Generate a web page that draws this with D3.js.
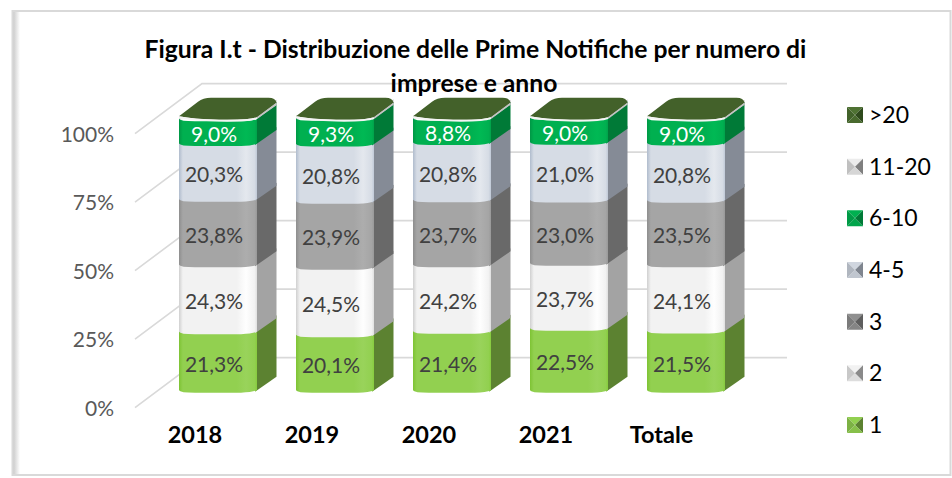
<!DOCTYPE html>
<html><head><meta charset="utf-8">
<script src="https://cdn.jsdelivr.net/npm/d3@7"></script>
<style>html,body{margin:0;padding:0;background:#fff}svg{display:block}text{font-family:Lato,"Open Sans",sans-serif}</style>
</head><body><svg id="c" width="952" height="478"></svg>
<script>
const categories = ["2018","2019","2020","2021","Totale"];
const seriesNames = ["1","2","3","4-5","6-10","11-20",">20"];
const s1    = [21.3,20.1,21.4,22.5,21.5];
const s2    = [24.3,24.5,24.2,23.7,24.1];
const s3    = [23.8,23.9,23.7,23.0,23.5];
const s45   = [20.3,20.8,20.8,21.0,20.8];
const s610  = [9.0,9.3,8.8,9.0,9.0];
const s1120 = [0.9,0.9,0.7,0.5,0.6];
const s20   = [0.4,0.2,0.4,0.3,0.5];
const seriesValues = [s1,s2,s3,s45,s610,s1120,s20];
const labelled = [true,true,true,true,true,false,false];
const pctTicks = [0,25,50,75,100];
const fronts = ["#92d050","#f2f2f2","#a5a5a5","#d6dce5","#00b050","#ffffff","#43612a"];
const sides  = ["#5c8231","#a3a3a3","#696969","#858b96","#007a37","#c4c4c4","#43612a"];
const swatchTop  = ["#92d050","#f2f2f2","#8f8f8f","#d0d6df","#00b050","#ececec","#4f7233"];
const swatchDark = ["#5c8231","#8a8a8a","#5e5e5e","#7f858f","#007a37","#7f7f7f","#2f4a1c"];
const labelColors = ["#404040","#404040","#404040","#404040","#ffffff"];

const svg = d3.select("#c");
const defs = svg.append("defs");

// frame
const sh = defs.append("linearGradient").attr("id","frameShadow");
sh.append("stop").attr("offset",0).attr("stop-color","#c9c9c9");
sh.append("stop").attr("offset",1).attr("stop-color","#ffffff");
svg.append("rect").attr("x",13).attr("y",11).attr("width",7).attr("height",464).attr("fill","url(#frameShadow)");
svg.append("rect").attr("x",12.5).attr("y",11).attr("width",938).attr("height",464)
  .attr("fill","none").attr("stroke","#d9d9d9").attr("stroke-width",2);

// scales
const yFront = d3.scaleLinear().domain([0,100]).range([392.7,117.7]);
const yWall  = d3.scaleLinear().domain([0,100]).range([357.6,83.6]);
const yAxisF = d3.scaleLinear().domain([0,100]).range([407.6,133.6]);
const x = d3.scaleBand().domain(categories).range([179,725]).paddingInner(1/3).paddingOuter(0);
const wallX0 = 202, wallX1 = 787, axisX = 135;
const depthX = 19.5, depthY = 16, cornerDrop = 2.5;

// gridlines
const grid = svg.append("g").attr("stroke","#d9d9d9").attr("stroke-width",1.6).attr("fill","none");
pctTicks.forEach(t=>{
  grid.append("path").attr("d",d3.line()([[axisX,yAxisF(t)],[wallX0,yWall(t)],[wallX1,yWall(t)]]));
});

// axes
const yAxisG = svg.append("g").attr("transform",`translate(${axisX-21},0)`)
  .call(d3.axisLeft(yAxisF).tickValues(pctTicks).tickSize(0).tickPadding(0).tickFormat(d=>d+"%"));
yAxisG.select(".domain").remove();
yAxisG.selectAll("text").attr("fill","#595959").style("font-size","21px").style("font-family","Lato").attr("dy","0.36em");

const xAxisG = svg.append("g").attr("transform","translate(-23,426)")
  .call(d3.axisBottom(x).tickSize(0).tickPadding(0));
xAxisG.select(".domain").remove();
xAxisG.selectAll("text").attr("fill","#000").style("font-size","23.5px").style("font-weight","700").style("font-family","Lato").attr("dy","0.72em");
xAxisG.selectAll(".tick").filter(d=>d==="Totale").select("text").attr("dx","-1.5");

// gradients
function shade(c,k){const h=d3.hsl(c);h.l=Math.min(1,h.l*k);return h.formatHex();}
fronts.forEach((c,i)=>{
  const g = defs.append("linearGradient").attr("id","f"+i);
  [[0,shade(c,0.86)],[0.05,c],[0.74,c],[0.86,shade(c,1.05)],[0.97,c],[1,shade(c,0.92)]].forEach(s=>
    g.append("stop").attr("offset",s[0]).attr("stop-color",s[1]));
  const g2 = defs.append("linearGradient").attr("id","s"+i);
  [[0,shade(c,0.9)],[0.08,sides[i]],[1,sides[i]]].forEach(s=>
    g2.append("stop").attr("offset",s[0]).attr("stop-color",s[1]));
});

// stacked 3D bars
const stack = d3.stack().keys(d3.range(seriesNames.length)).value((d,k)=>seriesValues[k][d]).offset(d3.stackOffsetExpand);
const stacked = stack(d3.range(categories.length));
const bars = svg.append("g");
stacked.forEach((layer,k)=>{
  if(k===seriesNames.length-1) return;
  layer.forEach((seg,j)=>{
    const x0=x(categories[j]), x1=x0+x.bandwidth();
    const yb=yFront(seg[0]*100), yt=yFront(seg[1]*100);
    const side=d3.path();
    side.moveTo(x1-2,yb-1);
    side.lineTo(x1+depthX,yb-depthY);
    side.lineTo(x1+depthX,yt-depthY-3);
    side.lineTo(x1-2,yt-4);
    side.closePath();
    bars.append("path").attr("d",side.toString()).attr("fill",`url(#s${k})`);
    const p=d3.path();
    p.moveTo(x0,yt-3);
    p.lineTo(x1,yt-3);
    p.lineTo(x1,yb-cornerDrop);
    p.quadraticCurveTo(x1-5,yb-0.5,x1-16,yb);
    p.lineTo(x0+16,yb);
    p.quadraticCurveTo(x0+1,yb,x0,yb-cornerDrop);
    p.closePath();
    bars.append("path").attr("d",p.toString()).attr("fill",`url(#f${k})`);
  });
});

// top caps
stacked[seriesNames.length-1].forEach((seg,j)=>{
  const x0=x(categories[j]), x1=x0+x.bandwidth(), yt=yFront(seg[1]*100);
  const cap=d3.path();
  cap.moveTo(x0,yt-1.5);
  cap.quadraticCurveTo(x0+14,yt+1.5,x0+40,yt+2);
  cap.quadraticCurveTo(x1-8,yt+2.5,x1,yt-0.5);
  cap.lineTo(x1+depthX,yt-15);
  cap.quadraticCurveTo(x1+depthX-1,yt-20,x1+depthX-8,yt-20);
  cap.lineTo(x0+32,yt-20);
  cap.quadraticCurveTo(x0+24,yt-20,x0+19,yt-16);
  cap.closePath();
  bars.append("path").attr("d",cap.toString()).attr("fill",fronts[6]);
  const rim=d3.path();
  rim.moveTo(x0,yt-0.5);
  rim.quadraticCurveTo(x0+14,yt+2.5,x0+40,yt+3);
  rim.quadraticCurveTo(x1-8,yt+3.5,x1,yt+0.5);
  bars.append("path").attr("d",rim.toString()).attr("fill","none").attr("stroke","#f4f4f4").attr("stroke-width",1.8);
  const rim2=d3.path();
  rim2.moveTo(x1,yt+0.5);
  rim2.lineTo(x1+depthX,yt-14);
  bars.append("path").attr("d",rim2.toString()).attr("fill","none").attr("stroke","#c4c4c4").attr("stroke-width",1.6);
});

// data labels
const fmt = v => v.toFixed(1).replace(".",",")+"%";
const labels = svg.append("g").attr("text-anchor","middle").style("font-size","21px");
stacked.forEach((layer,k)=>{
  if(!labelled[k]) return;
  layer.forEach((seg,j)=>{
    labels.append("text")
      .attr("x",x(categories[j])+x.bandwidth()/2-4)
      .attr("y",(yFront(seg[0]*100)+yFront(seg[1]*100))/2+8.5)
      .attr("fill",labelColors[k])
      .text(fmt(seriesValues[k][j]));
  });
});

// title
const title = svg.append("g").attr("text-anchor","middle").attr("fill","#000")
  .style("font-size","24.7px").style("font-weight","700");
title.append("text").attr("x",475.5).attr("y",58).text("Figura I.t - Distribuzione delle Prime Notifiche per numero di");
title.append("text").attr("x",474).attr("y",92).text("imprese e anno");

// legend
const legendScale = d3.scalePoint().domain(seriesNames).range([425,115]);
const leg = svg.append("g");
seriesNames.forEach((n,i)=>{
  const yc=legendScale(n), s=8, xc=855;
  const c=[xc,yc];
  const tl=[xc-s,yc-s],tr=[xc+s,yc-s],br=[xc+s,yc+s],bl=[xc-s,yc+s];
  const f=swatchTop[i], sd=swatchDark[i];
  const mid=d3.interpolateRgb(f,sd)(0.4);
  [[tl,tr,f],[tr,br,sd],[br,bl,d3.interpolateRgb(f,sd)(0.2)],[bl,tl,mid]].forEach(t=>{
    leg.append("path").attr("d",d3.line()([t[0],t[1],c])+"Z").attr("fill",t[2]);
  });
  leg.append("text").attr("x",869).attr("y",yc+8).attr("fill","#000").style("font-size","23px").text(n);
});
</script></body></html>
